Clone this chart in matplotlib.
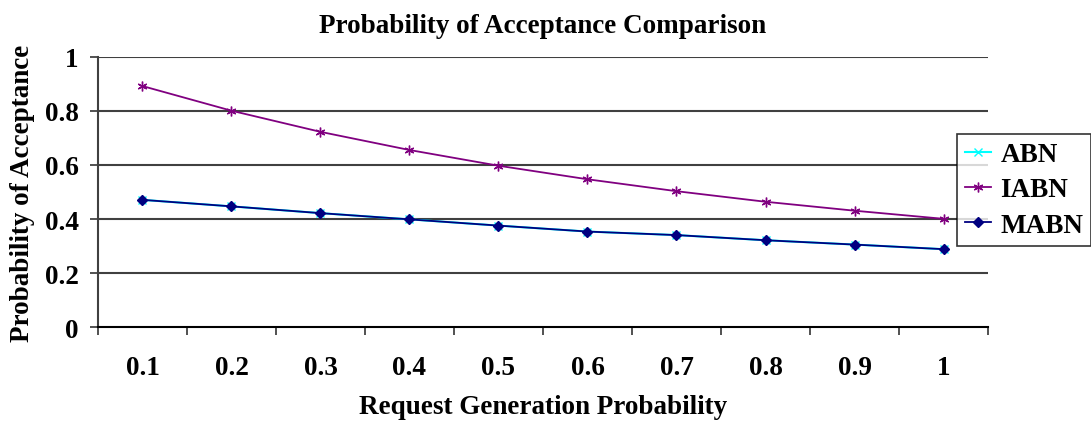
import matplotlib.pyplot as plt
import numpy as np

plt.rcParams['font.family'] = ['Liberation Serif', 'DejaVu Serif']
plt.rcParams['font.weight'] = 'bold'

# request generation probability (category axis)
categories = ['0.1', '0.2', '0.3', '0.4', '0.5', '0.6', '0.7', '0.8', '0.9', '1']
abn = [0.471, 0.447, 0.422, 0.399, 0.376, 0.354, 0.341, 0.322, 0.306, 0.289]
iabn = [0.891, 0.800, 0.722, 0.655, 0.597, 0.547, 0.503, 0.464, 0.431, 0.401]
mabn = [0.471, 0.447, 0.422, 0.399, 0.376, 0.354, 0.341, 0.322, 0.306, 0.289]
y_ticks = [0, 0.2, 0.4, 0.6, 0.8, 1]
y_tick_labels = ['0', '0.2', '0.4', '0.6', '0.8', '1']

fig = plt.figure(figsize=(10.91, 4.27), dpi=100)
ax = fig.add_axes([0.0898, 0.2307, 0.8158, 0.6346])

x = np.arange(1, len(categories) + 1)

ax.plot(x, abn, color='#00FFFF', marker='x', markersize=6, linewidth=1.5, label='ABN')
ax.plot(x, iabn, color='#800080', marker=(6, 2, 0), markersize=7, linewidth=1.3, label='IABN')
ax.plot(x, mabn, color='#000080', marker='D', markersize=5, linewidth=1.3, label='MABN')

ax.set_xlim(0.5, len(categories) + 0.5)
ax.set_ylim(0, 1)

# boundaries get the tick marks, centres get the labels
ax.set_xticks(np.arange(0.5, len(categories) + 1, 1))
ax.set_xticklabels([])
ax.set_xticks(x, minor=True)
ax.set_xticklabels(categories, minor=True, fontsize=19.5, fontweight='bold')
ax.tick_params(axis='x', which='major', direction='out', length=6, width=1.2, color='#333333')
ax.tick_params(axis='x', which='minor', length=0, pad=20)

ax.set_yticks(y_ticks)
ax.set_yticklabels(y_tick_labels, fontsize=19.5, fontweight='bold')
ax.tick_params(axis='y', direction='out', length=6, width=1.2, color='#333333', pad=8)

for yv in y_ticks[1:]:
    ax.axhline(yv, color='#404040', linewidth=1.5, zorder=0)

ax.spines['top'].set_visible(False)
ax.spines['right'].set_visible(False)
ax.spines['left'].set_color('#404040')
ax.spines['left'].set_linewidth(1.5)
ax.spines['bottom'].set_color('black')
ax.spines['bottom'].set_linewidth(1.5)

ax.set_title('Probability of Acceptance Comparison', fontsize=19.5, fontweight='bold', pad=18)
ax.set_xlabel('Request Generation Probability', fontsize=19.5, fontweight='bold', labelpad=10)
ax.set_ylabel('Probability of Acceptance', fontsize=19.5, fontweight='bold', labelpad=7)

leg = fig.legend(loc='upper left', bbox_to_anchor=(957 / 1091, 1 - 135 / 427),
                 fontsize=19.5, frameon=True, fancybox=False, handlelength=0.95,
                 handletextpad=0.35, borderpad=0.3, labelspacing=0.38, borderaxespad=0)
leg.get_frame().set_edgecolor('black')
leg.get_frame().set_linewidth(1.2)
for t in leg.get_texts():
    t.set_fontweight('bold')

fig.savefig('out.png', dpi=100)
